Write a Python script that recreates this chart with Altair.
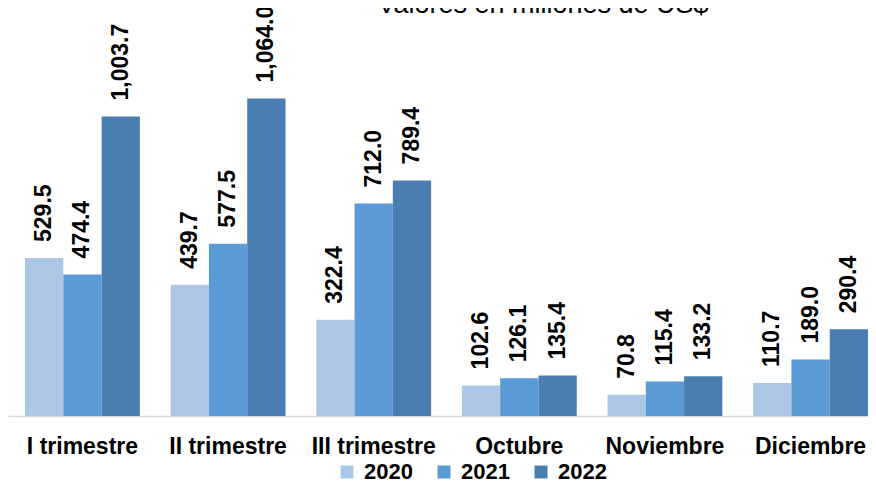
import altair as alt
import pandas as pd

categories = ["I trimestre", "II trimestre", "III trimestre", "Octubre", "Noviembre", "Diciembre"]
years = ["2020", "2021", "2022"]
v2020 = [529.5, 439.7, 322.4, 102.6, 70.8, 110.7]
v2021 = [474.4, 577.5, 712.0, 126.1, 115.4, 189.0]
v2022 = [1003.7, 1064.0, 789.4, 135.4, 133.2, 290.4]
colors = ["#adc6e5", "#5b9bd5", "#4a7eb0"]
title_text = "Valores en millones de US$"

rows = []
for yr, vals in zip(years, [v2020, v2021, v2022]):
    for c, v in zip(categories, vals):
        rows.append({"periodo": c, "anio": yr, "valor": v})
df = pd.DataFrame(rows)

FONT = "Liberation Sans"

x_enc = alt.X("periodo:N", sort=categories,
              scale=alt.Scale(paddingInner=0.211, paddingOuter=0.0584, align=1),
              axis=alt.Axis(title=None, labelAngle=0, labelFont=FONT, labelFontSize=23,
                            labelFontWeight="bold", labelColor="#000000", ticks=False,
                            labelPadding=19, domainColor="#d9d9d9", domainWidth=1.5))
y_enc = alt.Y("valor:Q", scale=alt.Scale(domain=[0, 1367], nice=False), axis=None)
xoff = alt.XOffset("anio:N", sort=years)

bars = alt.Chart(df).mark_bar().encode(
    x=x_enc, y=y_enc, xOffset=xoff,
    color=alt.Color("anio:N", sort=years,
                    scale=alt.Scale(domain=years, range=colors),
                    legend=alt.Legend(title=None, orient="none", direction="horizontal",
                                      legendX=328, legendY=453, symbolType="square",
                                      symbolSize=169, symbolStrokeWidth=0,
                                      labelFont=FONT, labelFontSize=22, labelFontWeight="bold",
                                      labelColor="#000000", labelOffset=6, columnPadding=20,
                                      padding=0)),
)

labels = alt.Chart(df).mark_text(angle=270, align="left", baseline="middle", dx=16,
                                 font=FONT, fontSize=23, fontWeight="bold", color="#000000").encode(
    x=x_enc, y=y_enc, xOffset=xoff,
    text=alt.Text("valor:Q", format=",.1f"),
)

title_df = pd.DataFrame({"t": [title_text]})
title = alt.Chart(title_df).mark_text(align="center", baseline="alphabetic", font=FONT,
                                      fontSize=27, color="#000000").encode(
    x=alt.value(535), y=alt.value(5), text="t:N")

chart = alt.layer(bars, labels, title).properties(
    width=860, height=408,
    autosize=alt.AutoSizeParams(type="none"),
    padding={"left": 0, "top": 0, "right": 0, "bottom": 71},
).configure_view(stroke=None)

chart.save("out.html", embed_options={"renderer": "svg", "actions": False})
